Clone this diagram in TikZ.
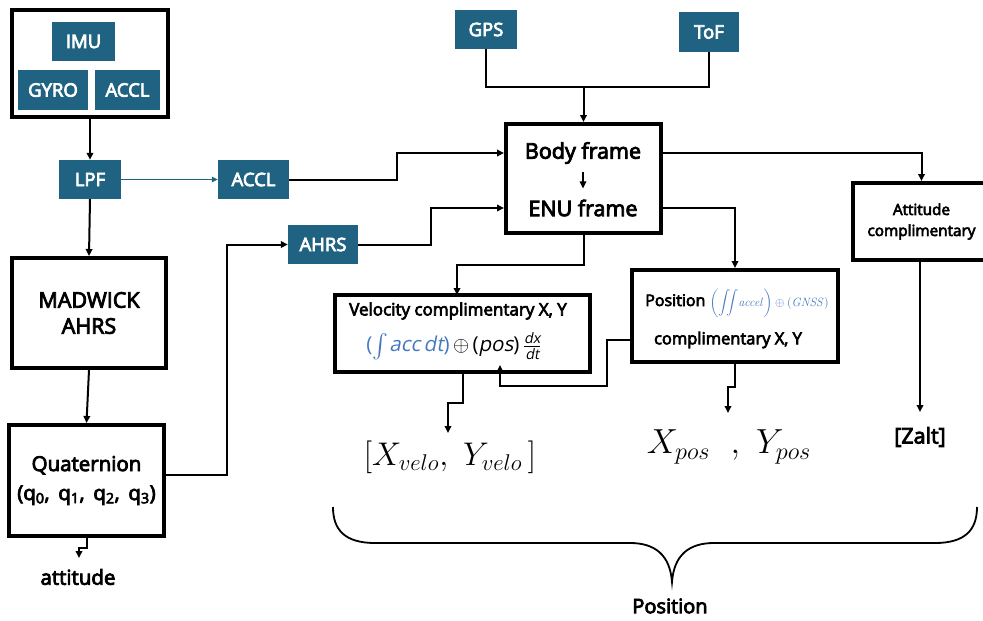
\documentclass[tikz,border=0pt]{standalone}
\usepackage{amsmath}
\usepackage{graphicx}
\usepackage[no-math]{fontspec}
\setsansfont{Open Sans}[AutoFakeBold=4,AutoFakeSlant=0.2]
\usetikzlibrary{arrows.meta}
\definecolor{teal1}{RGB}{31,98,130}
\definecolor{mblue}{RGB}{70,120,190}
\newcommand{\fsz}[2]{\fontsize{#1}{#2}\selectfont}
\begin{document}
\begin{tikzpicture}[x=1pt,y=-1pt,
  tbox/.style={fill=teal1, text=white, font=\sffamily\bfseries\fsz{18.5}{22}, inner sep=0pt},
  bbox/.style={draw, line width=4pt, inner sep=0pt, align=center, font=\sffamily\bfseries\fsz{21.5}{26}},
  conn/.style={line width=2pt, -{Triangle[length=7pt,width=6.5pt]}},
  plain/.style={line width=2pt},
  lab/.style={font=\sffamily\bfseries, inner sep=0pt}
]
\useasboundingbox (0,0) rectangle (983,621);

% IMU group
\node[bbox, minimum width=156pt, minimum height=107pt] (imubox) at (90,63.5) {};
\node[tbox, minimum width=63pt, minimum height=39pt] (imu) at (83.5,41.5) {IMU};
\node[tbox, minimum width=70pt, minimum height=40pt] (gyro) at (53,90) {GYRO};
\node[tbox, minimum width=65pt, minimum height=40pt] (accla) at (127.5,90) {ACCL};

% teal boxes
\node[tbox, minimum width=62pt, minimum height=39pt] (lpf) at (90,179.5) {LPF};
\node[tbox, minimum width=71pt, minimum height=39pt] (acclb) at (253.5,179.5) {ACCL};
\node[tbox, minimum width=70pt, minimum height=39pt] (ahrs) at (323,244.5) {AHRS};
\node[tbox, minimum width=62pt, minimum height=39pt] (gps) at (486,29.5) {GPS};
\node[tbox, minimum width=60pt, minimum height=40pt] (tof) at (709,32) {ToF};

% left column
\node[bbox, minimum width=154pt, minimum height=110pt] (madwick) at (89,313) {MADWICK\\AHRS};
\node[bbox, minimum width=155pt, minimum height=111pt, font=\sffamily\bfseries\fsz{20.5}{29}] (quat) at (86.5,480.5)
  {Quaternion\\(q\textsubscript{0}, \,q\textsubscript{1}, \,q\textsubscript{2}, \,q\textsubscript{3})};
\node[lab, font=\sffamily\bfseries\fsz{20.5}{24}] (attitude) at (78,577) {attitude};

% frame box
\node[bbox, minimum width=155pt, minimum height=109pt] (frame) at (583.5,178.5) {};
\node[lab, font=\sffamily\bfseries\fsz{21.5}{26}] (body) at (583,153) {Body frame};
\node[lab, font=\sffamily\bfseries\fsz{21.5}{26}] (enu) at (583,208) {ENU frame};

% attitude complimentary
\node[bbox, minimum width=137pt, minimum height=77pt, font=\sffamily\bfseries\fsz{15.3}{21}] (att) at (921.5,221.5) {Attitude\\complimentary};

% velocity box
\node[bbox, minimum width=255pt, minimum height=77pt] (velo) at (462.5,333.5) {};
\node[lab, font=\sffamily\bfseries\fsz{17}{20}] (velot) at (458,311) {Velocity complimentary X, Y};
\node[inner sep=0pt, font=\sffamily\fsz{20.5}{22}] (velof) at (454,346)
  {\color{mblue}(\smash{\raisebox{-1pt}{\scalebox{1.15}{$\int$}}}\kern1pt\textit{acc}\,\textit{dt})\,\color{black}$\oplus$\,(\textit{pos})\,$\frac{\textit{dx}}{\textit{dt}}$};

% position box
\node[bbox, minimum width=206pt, minimum height=92pt] (pos) at (735,316) {};
\node[lab, font=\sffamily\bfseries\fsz{16}{20}] (post) at (737,303)
  {Position \textcolor{mblue}{\fsz{13}{16}$\left(\displaystyle\iint\!\mathit{accel}\right)\oplus(\mathit{GNSS})$}};
\node[lab, font=\sffamily\bfseries\fsz{16.5}{20}] (posc) at (728,340) {complimentary X, Y};

% outputs
\node[inner sep=0pt, font=\fsz{20}{24}] (xvelo) at (450,457) {\scalebox{1.58}{$\left[X_{velo},\ Y_{velo}\,\right]$}};
\node[inner sep=0pt, font=\fsz{20}{24}] (xpos) at (729,447) {\scalebox{1.68}{$X_{pos}\ \ ,\ Y_{pos}$}};
\node[lab, font=\sffamily\bfseries\fsz{21.5}{26}] (zalt) at (920,437) {[Zalt]};
\node[lab, font=\sffamily\bfseries\fsz{20}{24}] (position) at (670,606) {Position};

% free ends
\coordinate (atttip) at (79,558);
\coordinate (vtip) at (448,433);
\coordinate (ptip) at (728,413);
\coordinate (ztip) at (920,412);
\coordinate (vin) at (457,295);
\coordinate (fbtip) at (500,365);

% connectors
\draw[conn] (imubox.south) -- (lpf.north);
\draw[line width=1.3pt, teal1, -{Triangle[length=6pt,width=5.5pt]}] (lpf.east) -- (acclb.west);
\draw[conn] (lpf.south) -- (madwick.north);
\draw[conn] (madwick.south) -- (quat.north);
\draw[conn] (quat.south) -- (86.5,548) -- (79,548) -- (atttip);
\draw[conn] ([yshift=5.5pt]quat.east) -- (227,475) -- (227,244.5) -- (ahrs.west);
\draw[conn] (acclb.east) -- (397,179.5) -- (397,153) -- (frame.west |- body);
\draw[conn] (ahrs.east) -- (431,244.5) -- (431,208) -- (frame.west |- enu);
\draw[plain] (gps.south) -- (486,87) -- (709,87) -- (tof.south);
\draw[conn] (583.5,87) -- (frame.north);
\draw[conn, line width=1.6pt, shorten <=8pt, shorten >=11pt] (body.south) -- (enu.north);
\draw[conn] (frame.east |- body) -| (att.north);
\draw[conn] (frame.east |- enu) -| (pos.north);
\draw[conn] (frame.south) -- (583.5,265) -- (457,265) -- (vin);
\draw[conn] (velo.south) -- (462.5,403) -- (448,403) -- (vtip);
\draw[conn] (pos.south) -- (735,387) -- (728,387) -- (ptip);
\draw[conn] (att.south -| zalt) -- (ztip);
\draw[conn] (pos.west |- posc) -- (607,340) -- (607,386) -- (500,386) -- (fbtip);

% brace
\draw[line width=1.8pt] (333,507) .. controls (333,530) and (345,543) .. (375,543) -- (630,543)
  .. controls (655,543) and (670,555) .. (672,582)
  .. controls (674,555) and (689,543) .. (714,543) -- (935,543)
  .. controls (965,543) and (977,530) .. (977,507);
\end{tikzpicture}
\end{document}
